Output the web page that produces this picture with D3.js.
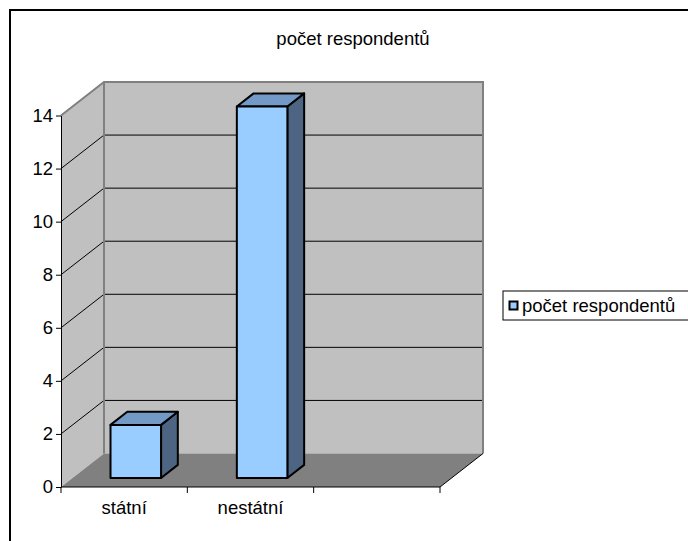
<!DOCTYPE html>
<html>
<head>
<meta charset="utf-8">
<script src="https://cdn.jsdelivr.net/npm/d3@7"></script>
<style>
  body { margin: 0; background: #fff; }
  text { font-family: "Liberation Sans", Arial, sans-serif; fill: #000; }
</style>
</head>
<body>
<svg id="chart"></svg>
<script>
// data
const categories = ['státní', 'nestátní', '']
const counts = [2, 14, null]
const yTicks = [0, 2, 4, 6, 8, 10, 12, 14]
const seriesName = 'počet respondentů'
const title = 'počet respondentů'

const width = 688
const height = 541
const fontSize = '18.5px'

// 3d depth offset (full depth)
const depthX = 43
const depthY = -33.5
const barZ0 = 0.27
const barZ1 = 0.66

const svg = d3.select('#chart')
    .attr('width', width)
    .attr('height', height)

const xScale = d3.scaleBand()
    .domain(categories)
    .range([61, 440])
    .paddingInner(0)
    .paddingOuter(0)

const yScale = d3.scaleLinear()
    .domain([0, 14])
    .range([487, 115.5])

// project a point with depth z (0 front .. 1 back)
const p = (x, y, z) => [x + z * depthX, y + z * depthY]
const poly = pts => 'M' + pts.map(d => d.join(',')).join('L') + 'Z'
const line = pts => 'M' + pts.map(d => d.join(',')).join('L')

const x0 = xScale.range()[0]
const x1 = xScale.range()[1]
const yTop = yScale(14)
const yBot = yScale(0)

// outer frame
svg.append('rect')
    .attr('x', 10)
    .attr('y', 10)
    .attr('width', 720)
    .attr('height', 580)
    .attr('fill', 'none')
    .attr('stroke', '#000')
    .attr('stroke-width', 2)

// title
svg.append('text')
    .attr('x', 353)
    .attr('y', 45)
    .attr('text-anchor', 'middle')
    .style('font-size', fontSize)
    .text(title)

// side wall
svg.append('path')
    .attr('d', poly([p(x0, yTop, 0), p(x0, yTop, 1), p(x0, yBot, 1), p(x0, yBot, 0)]))
    .attr('fill', '#c0c0c0')

// back wall
svg.append('path')
    .attr('d', poly([p(x0, yTop, 1), p(x1, yTop, 1), p(x1, yBot, 1), p(x0, yBot, 1)]))
    .attr('fill', '#c0c0c0')

// gridlines on walls
const grid = yTicks.filter(d => d > 0 && d < 14)
svg.append('g')
    .selectAll('path')
    .data(grid)
    .join('path')
        .attr('d', d => line([p(x0, yScale(d), 0), p(x0, yScale(d), 1), p(x1, yScale(d), 1)]))
        .attr('fill', 'none')
        .attr('stroke', '#000')
        .attr('stroke-width', 1)

// wall edges
svg.append('path')
    .attr('d', line([p(x0, yTop, 0), p(x0, yTop, 1), p(x1, yTop, 1), p(x1, yBot, 1)]))
    .attr('fill', 'none')
    .attr('stroke', '#808080')
    .attr('stroke-width', 2)

svg.append('path')
    .attr('d', line([p(x0, yTop, 1), p(x0, yBot, 1)]))
    .attr('fill', 'none')
    .attr('stroke', '#808080')
    .attr('stroke-width', 2)

// floor
svg.append('path')
    .attr('d', poly([p(x0, yBot, 0), p(x0, yBot, 1), p(x1, yBot, 1), p(x1, yBot, 0)]))
    .attr('fill', '#808080')

svg.append('path')
    .attr('d', line([p(x1, yBot, 0), p(x1, yBot, 1)]))
    .attr('stroke', '#000')
    .attr('stroke-width', 1)

// bars
const barData = categories.map((c, i) => ({ cat: c, value: counts[i] })).filter(d => d.value != null)
const barW = xScale.bandwidth() * 0.4
const bx = d => xScale(d.cat) + (xScale.bandwidth() - barW) / 2

const bars = svg.append('g')
    .selectAll('g')
    .data(barData)
    .join('g')
        .attr('stroke', '#000')
        .attr('stroke-width', 2)
        .attr('stroke-linejoin', 'round')

// side
bars.append('path')
    .attr('d', d => poly([
        p(bx(d) + barW, yScale(d.value), barZ0), p(bx(d) + barW, yScale(d.value), barZ1),
        p(bx(d) + barW, yScale(0), barZ1), p(bx(d) + barW, yScale(0), barZ0)]))
    .attr('fill', '#4d6582')

// top
bars.append('path')
    .attr('d', d => poly([
        p(bx(d), yScale(d.value), barZ0), p(bx(d), yScale(d.value), barZ1),
        p(bx(d) + barW, yScale(d.value), barZ1), p(bx(d) + barW, yScale(d.value), barZ0)]))
    .attr('fill', '#7399c6')

// front
bars.append('path')
    .attr('d', d => poly([
        p(bx(d), yScale(d.value), barZ0), p(bx(d) + barW, yScale(d.value), barZ0),
        p(bx(d) + barW, yScale(0), barZ0), p(bx(d), yScale(0), barZ0)]))
    .attr('fill', '#99ccff')

// axes
const yAxis = d3.axisLeft(yScale)
    .tickValues(yTicks)
    .tickSize(5)
    .tickSizeOuter(0)
    .tickPadding(3)

svg.append('g')
    .attr('class', 'y-axis')
    .attr('transform', `translate(${x0}, 0)`)
    .call(yAxis)
    .call(g => g.selectAll('text').style('font-size', fontSize).attr('fill', '#000'))

const xAxis = d3.axisBottom(xScale)
    .tickSize(0)
    .tickPadding(14)

svg.append('g')
    .attr('class', 'x-axis')
    .attr('transform', `translate(0, ${yBot})`)
    .call(xAxis)
    .call(g => g.select('.domain').attr('d', `M${x0},0H${x1}`))
    .call(g => g.selectAll('text').style('font-size', fontSize).attr('fill', '#000'))

// category boundary ticks
svg.append('g')
    .selectAll('line')
    .data(categories.map(c => xScale(c)).concat([x1]))
    .join('line')
        .attr('x1', d => d)
        .attr('x2', d => d)
        .attr('y1', yBot)
        .attr('y2', yBot + 6)
        .attr('stroke', '#000')

// legend
const legend = svg.append('g')
    .attr('transform', 'translate(503, 291)')

legend.append('rect')
    .attr('width', 200)
    .attr('height', 29)
    .attr('fill', '#fff')
    .attr('stroke', '#000')

legend.append('rect')
    .attr('x', 6.5)
    .attr('y', 10.5)
    .attr('width', 8)
    .attr('height', 8)
    .attr('fill', '#99ccff')
    .attr('stroke', '#000')
    .attr('stroke-width', 2)

legend.append('text')
    .attr('x', 19)
    .attr('y', 21)
    .style('font-size', fontSize)
    .text(seriesName)
</script>
</body>
</html>
